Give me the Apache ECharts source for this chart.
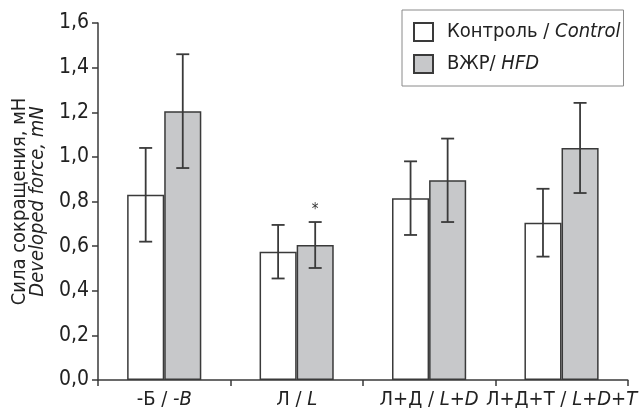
<!DOCTYPE html>
<html><head><meta charset="utf-8">
<script src="https://cdn.jsdelivr.net/npm/echarts@6/dist/echarts.min.js"></script>
<style>html,body{margin:0;padding:0;background:#fff}#c{width:639px;height:413px}</style>
</head><body><div id="c"></div>
<script>
const categories = ['-Б / -B', 'Л / L', 'Л+Д / L+D', 'Л+Д+Т / L+D+T'];
const catRu = ['-Б / ', 'Л / ', 'Л+Д / ', 'Л+Д+Т / '];
const catEn = ['-B', 'L', 'L+D', 'L+D+T'];
const controlMean = [0.83, 0.575, 0.815, 0.705];
const controlErr = [0.21, 0.12, 0.165, 0.152];
const hfdMean = [1.205, 0.605, 0.895, 1.04];
const hfdErr = [0.255, 0.103, 0.187, 0.202];
const hfdSig = ['', '*', '', ''];
const yTicks = [0, 0.2, 0.4, 0.6, 0.8, 1.0, 1.2, 1.4, 1.6];

const FONT = '"Liberation Sans Narrow","DejaVu Sans Condensed","Roboto Condensed","Liberation Sans",sans-serif';
const LINE = '#3a3a3a';
const GRAY = '#c7c8ca';

const errData = [];
categories.forEach((c, i) => {
  errData.push([i, controlMean[i], controlErr[i], -1, '']);
  errData.push([i, hfdMean[i], hfdErr[i], 1, hfdSig[i]]);
});

const chart = echarts.init(document.getElementById('c'), null, {renderer: 'canvas'});
chart.setOption({
  animation: false,
  textStyle: {fontFamily: FONT},
  grid: {left: 98, right: 2, top: 23, bottom: 33, containLabel: false},
  legend: {
    data: ['Контроль / Control', 'ВЖР/ HFD'],
    orient: 'vertical',
    left: 402, top: 10,
    padding: [12, 3, 12, 11],
    itemWidth: 19, itemHeight: 18, itemGap: 12,
    borderColor: '#8a8a8a', borderWidth: 1,
    icon: 'rect',
    formatter: function (n) {
      const p = n.split('/');
      return '{a|' + p[0] + '/ }{b|' + p[1].trim() + '}';
    },
    textStyle: {
      fontFamily: FONT, fontSize: 20, color: '#222',
      rich: {
        a: {fontFamily: FONT, fontSize: 20, color: '#222', padding: [0, 0, 0, 9]},
        b: {fontFamily: FONT, fontSize: 20, color: '#222', fontStyle: 'italic'}
      }
    }
  },
  xAxis: {
    type: 'category',
    data: categories,
    axisLine: {lineStyle: {color: LINE, width: 1.5}},
    axisTick: {show: true, length: 6, lineStyle: {color: LINE, width: 1.5}},
    axisLabel: {
      interval: 0, hideOverlap: false,
      margin: 10, fontFamily: FONT, fontSize: 20, color: '#222',
      formatter: function (v, i) { return '{a|' + catRu[i] + '}{b|' + catEn[i] + '}'; },
      rich: {
        a: {fontFamily: FONT, fontSize: 20, color: '#222'},
        b: {fontFamily: FONT, fontSize: 20, color: '#222', fontStyle: 'italic'}
      }
    }
  },
  yAxis: {
    type: 'value',
    min: yTicks[0], max: yTicks[yTicks.length - 1], interval: 0.2,
    splitLine: {show: false},
    axisLine: {show: true, lineStyle: {color: LINE, width: 1.5}},
    axisTick: {show: true, length: 6, lineStyle: {color: LINE, width: 1.5}},
    axisLabel: {
      margin: 9, fontFamily: FONT, fontSize: 21, color: '#222',
      formatter: function (v) { return v.toFixed(1).replace('.', ','); }
    },
    name: '{a|Сила сокращения, мН}\n{b|Developed force, mN}',
    nameLocation: 'middle',
    nameRotate: 90,
    nameGap: 49,
    nameTextStyle: {
      rich: {
        a: {fontFamily: FONT, fontSize: 20, color: '#222', lineHeight: 18},
        b: {fontFamily: FONT, fontSize: 20, color: '#222', fontStyle: 'italic', lineHeight: 18}
      }
    }
  },
  series: [
    {
      name: 'Контроль / Control', type: 'bar', data: controlMean,
      barWidth: '28%', barGap: '0%',
      itemStyle: {color: '#ffffff', borderColor: LINE, borderWidth: 1.5}
    },
    {
      name: 'ВЖР/ HFD', type: 'bar', data: hfdMean,
      barWidth: '28%', barGap: '0%',
      itemStyle: {color: GRAY, borderColor: LINE, borderWidth: 1.5}
    },
    {
      type: 'custom', z: 10, silent: true,
      data: errData,
      encode: {x: 0, y: 1},
      renderItem: function (params, api) {
        const i = api.value(0), m = api.value(1), e = api.value(2), side = api.value(3);
        const sig = errData[params.dataIndex][4];
        const band = api.size([1, 0])[0];
        const cx = api.coord([i, m])[0] + side * band * 0.14;
        const yt = api.coord([i, m + e])[1];
        const yb = api.coord([i, m - e])[1];
        const h = 6.5;
        const st = {stroke: '#3a3a3a', lineWidth: 1.8};
        const ch = [
          {type: 'line', shape: {x1: cx, y1: yt, x2: cx, y2: yb}, style: st},
          {type: 'line', shape: {x1: cx - h, y1: yt, x2: cx + h, y2: yt}, style: st},
          {type: 'line', shape: {x1: cx - h, y1: yb, x2: cx + h, y2: yb}, style: st}
        ];
        if (sig) {
          ch.push({type: 'text', x: cx, y: yt - 4, style: {
            text: sig, fill: '#333', font: '15px ' + FONT, align: 'center', verticalAlign: 'bottom'}});
        }
        return {type: 'group', children: ch};
      }
    }
  ]
});
</script></body></html>
